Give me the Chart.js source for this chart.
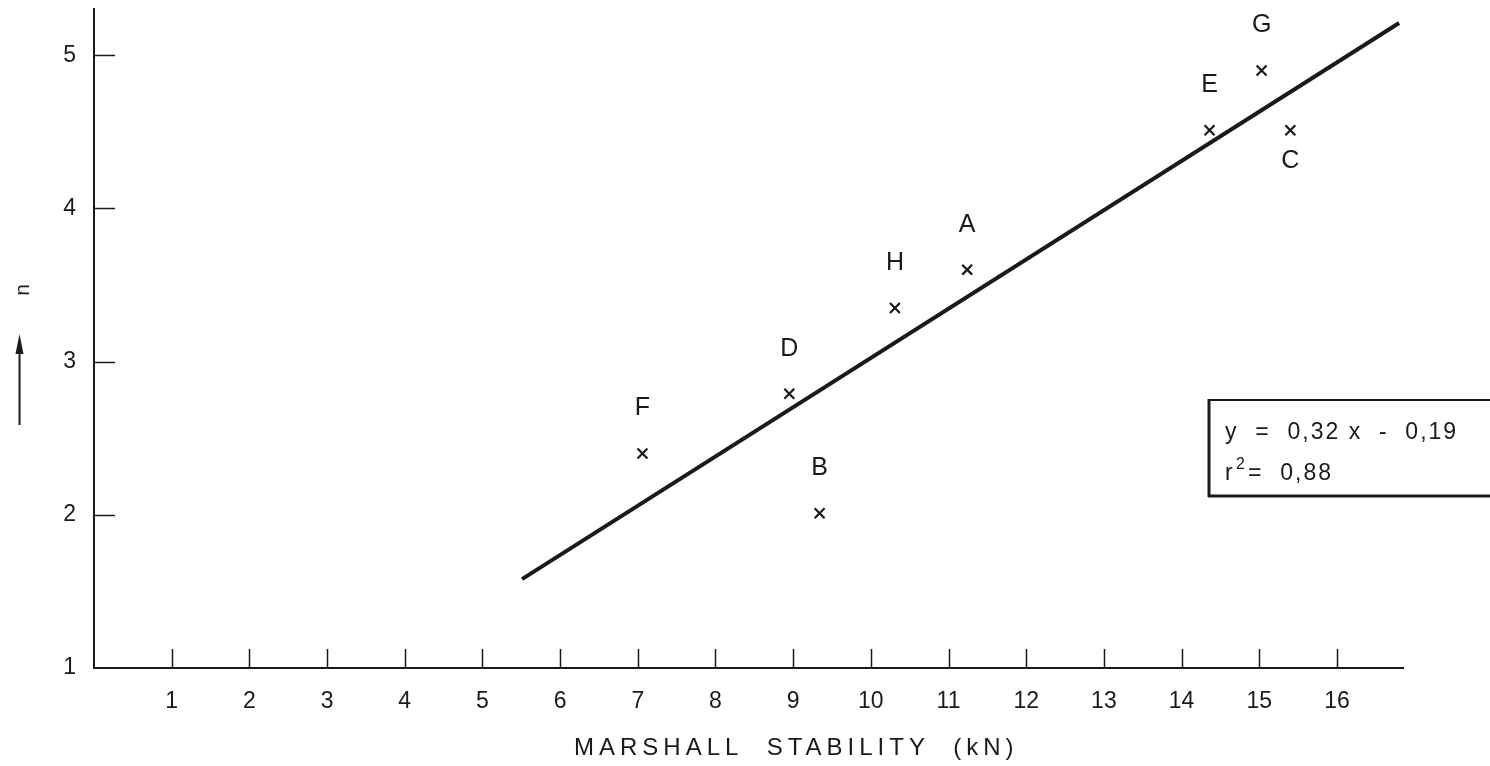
<!DOCTYPE html>
<html><head><meta charset="utf-8">
<style>html,body{margin:0;padding:0;background:#fff;overflow:hidden}</style>
<script src="https://cdn.jsdelivr.net/npm/chart.js@4.4.1/dist/chart.umd.min.js"></script>
</head><body>
<canvas id="c" width="1490" height="766"></canvas>
<script>
// ---- data ----
const sampleNames = ['A', 'B', 'C', 'D', 'E', 'F', 'G', 'H'];
const stability   = [11.24, 9.34, 15.40, 8.95, 14.36, 7.06, 15.03, 10.31]; // kN
const nValues     = [3.60, 2.01, 4.51, 2.79, 4.51, 2.40, 4.90, 3.35];
const fitStability = [5.51, 16.80];
const fitN         = [1.58, 5.21];
const xTickValues = [1, 2, 3, 4, 5, 6, 7, 8, 9, 10, 11, 12, 13, 14, 15, 16];
const yTickValues = [1, 2, 3, 4, 5];
const xTitle = 'MARSHALL  STABILITY  (kN)';
const yTitle = 'n';
const equationText = 'y  =  0,32 x  -  0,19';
const rSquaredText = '=  0,88';
const labelsBelow = ['C'];

const FONT = '"Liberation Sans", Arial, sans-serif';
const INK = '#1a1a1a';

const pointData = stability.map((x, i) => ({x, y: nValues[i]}));
const fitData = fitStability.map((x, i) => ({x, y: fitN[i]}));

const decor = {
  id: 'decor',
  afterDraw(chart) {
    const {ctx, chartArea: a, scales: {x, y}} = chart;
    ctx.save();
    ctx.strokeStyle = INK;
    ctx.fillStyle = INK;
    // inner tick marks
    ctx.lineWidth = 1.5;
    xTickValues.forEach(v => {
      const px = Math.round(x.getPixelForValue(v)) + 0.5;
      ctx.beginPath(); ctx.moveTo(px, a.bottom); ctx.lineTo(px, a.bottom - 19); ctx.stroke();
    });
    yTickValues.forEach(v => {
      if (v === y.min) return;
      const py = Math.round(y.getPixelForValue(v)) + 0.5;
      ctx.beginPath(); ctx.moveTo(a.left, py); ctx.lineTo(a.left + 21, py); ctx.stroke();
    });
    // x axis title
    ctx.font = '24px ' + FONT;
    ctx.textAlign = 'center';
    ctx.textBaseline = 'middle';
    try { ctx.letterSpacing = '5px'; } catch (e) {}
    ctx.fillText(xTitle, x.getPixelForValue(9.04), a.bottom + 80);
    try { ctx.letterSpacing = '0px'; } catch (e) {}
    // y axis title (rotated) and arrow
    ctx.save();
    ctx.translate(23, 290);
    ctx.rotate(-Math.PI / 2);
    ctx.font = '21px ' + FONT;
    ctx.fillText(yTitle, 0, 0);
    ctx.restore();
    ctx.lineWidth = 2;
    ctx.beginPath(); ctx.moveTo(19.5, 425); ctx.lineTo(19.5, 350); ctx.stroke();
    ctx.beginPath(); ctx.moveTo(19.5, 334); ctx.lineTo(15.5, 354); ctx.lineTo(23.5, 354); ctx.closePath(); ctx.fill();
    // sample letters
    const meta = chart.getDatasetMeta(1);
    ctx.font = '25px ' + FONT;
    ctx.textAlign = 'center';
    ctx.textBaseline = 'middle';
    meta.data.forEach((el, i) => {
      const name = sampleNames[i];
      const dy = labelsBelow.includes(name) ? 31 : -45;
      ctx.fillText(name, el.x, el.y + dy);
    });
    // equation box
    const bx = a.left + 1114, by = 399, bh = 98;
    ctx.fillStyle = '#fff';
    ctx.fillRect(bx, by, 400, bh);
    ctx.fillStyle = INK;
    ctx.lineWidth = 2;
    ctx.beginPath(); ctx.moveTo(bx, by + 1); ctx.lineTo(1490, by + 1); ctx.stroke();
    ctx.lineWidth = 3;
    ctx.beginPath(); ctx.moveTo(bx + 1, by); ctx.lineTo(bx + 1, by + bh); ctx.stroke();
    ctx.beginPath(); ctx.moveTo(bx, by + bh - 1); ctx.lineTo(1490, by + bh - 1); ctx.stroke();
    ctx.textAlign = 'left';
    ctx.textBaseline = 'alphabetic';
    ctx.font = '23px ' + FONT;
    try { ctx.letterSpacing = '2px'; } catch (e) {}
    ctx.fillText(equationText, bx + 17, by + 40);
    ctx.fillText('r', bx + 17, by + 81);
    ctx.font = '16px ' + FONT;
    ctx.fillText('2', bx + 28, by + 70);
    ctx.font = '23px ' + FONT;
    ctx.fillText(rSquaredText, bx + 40, by + 81);
    ctx.restore();
  }
};

new Chart(document.getElementById('c'), {
  data: {
    datasets: [
      {
        type: 'line',
        data: fitData,
        borderColor: INK,
        borderWidth: 4,
        pointRadius: 0,
        fill: false,
        tension: 0
      },
      {
        type: 'scatter',
        data: pointData,
        pointStyle: 'crossRot',
        pointRadius: 7,
        borderColor: INK,
        borderWidth: 2.2,
        backgroundColor: INK
      }
    ]
  },
  options: {
    responsive: false,
    animation: false,
    layout: {padding: {top: 8, right: 87, left: 0, bottom: 0}},
    plugins: {legend: {display: false}, tooltip: {enabled: false}},
    scales: {
      x: {
        type: 'linear',
        min: 0,
        max: 16.85,
        afterBuildTicks: s => { s.ticks = xTickValues.map(v => ({value: v})); },
        afterFit: s => { s.height = 98; s.paddingLeft = 0; s.paddingRight = 0; },
        grid: {display: false, drawTicks: false},
        border: {display: true, color: INK, width: 2},
        ticks: {color: INK, font: {family: FONT, size: 23}, padding: 20, maxRotation: 0, autoSkip: false}
      },
      y: {
        type: 'linear',
        min: 1,
        max: 5.3,
        afterBuildTicks: s => { s.ticks = yTickValues.map(v => ({value: v})); },
        afterFit: s => { s.width = 94; s.paddingTop = 0; s.paddingBottom = 0; },
        grid: {display: false, drawTicks: false},
        border: {display: true, color: INK, width: 2},
        ticks: {color: INK, font: {family: FONT, size: 23}, padding: 18}
      }
    }
  },
  plugins: [decor]
});
</script>
</body></html>
